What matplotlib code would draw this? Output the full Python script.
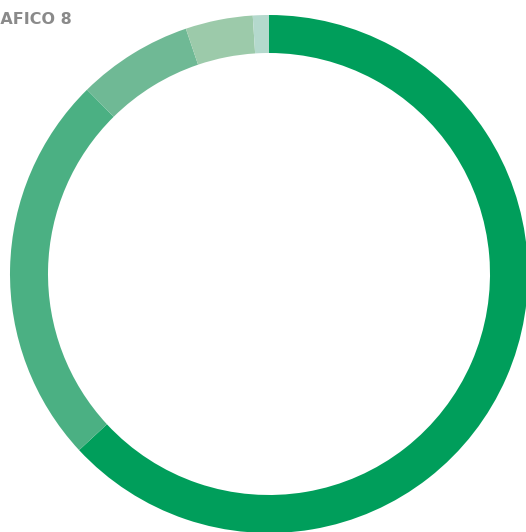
import matplotlib
matplotlib.use("Agg")
import matplotlib.pyplot as plt

categories = ["A", "B", "C", "D", "E"]
values = [63.1, 24.5, 7.2, 4.2, 1.0]
colors = ["#009e5b", "#4bb083", "#6fb995", "#9ccaaa", "#b4d9cd"]
title = "GRAFICO 8"

fig = plt.figure(figsize=(5.26, 5.32), dpi=100)
ax = fig.add_axes([0, 0, 1, 1])
ax.set_xlim(0, 526)
ax.set_ylim(0, 532)
ax.set_aspect("equal")
ax.axis("off")

ax.pie(values, colors=colors, startangle=90, counterclock=False,
       center=(269, 258), radius=259,
       wedgeprops=dict(width=38, linewidth=0))
ax.set_xlim(0, 526)
ax.set_ylim(0, 532)

fig.text(72 / 526, 1 - 20 / 532, title, ha="right", va="center",
         fontsize=11.5, fontweight="heavy", color="#8a8a8a",
         family="DejaVu Sans")

fig.savefig("out.png", dpi=100)
